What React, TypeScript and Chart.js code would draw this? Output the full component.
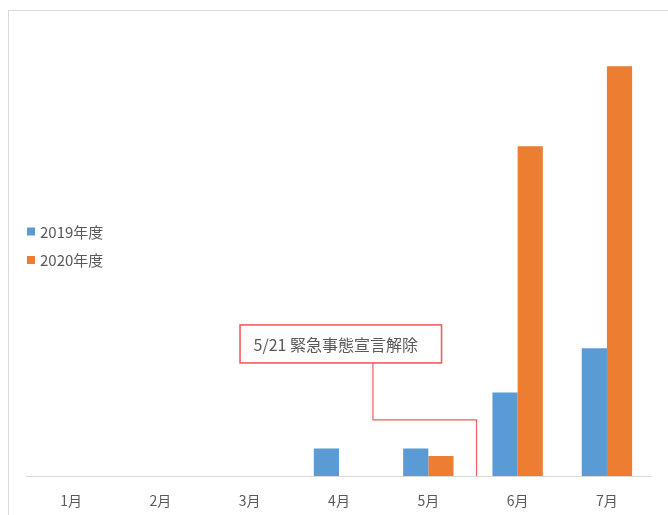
import React, { useEffect, useRef } from 'react';
import { Chart, registerables } from 'chart.js';

Chart.register(...registerables);

// ---- data ----
const months = ['1月', '2月', '3月', '4月', '5月', '6月', '7月'];
const fy2019 = [0, 0, 0, 2, 2, 6.05, 9.25];
const fy2020 = [0, 0, 0, 0, 1.45, 23.9, 29.7];
const seriesLabels = ['2019年度', '2020年度'];
const seriesColors = ['#5b9bd5', '#ed7d31'];
const yMax = 32;

// annotation (in data coordinates)
const annotationText = '5/21 緊急事態宣言解除';
const eventIndex = 4.54; // 5/21, between 5月 and 6月
const boxCenter = [3.02, 9.57];
const connectorStartX = 3.38;
const connectorKneeY = 4.06;

const FONT = '"Noto Sans CJK JP", "Noto Sans", sans-serif';
const TEXT_COLOR = '#595959';
const RED = '#f25c5c';

const frameBorderPlugin = {
  id: 'frameBorder',
  beforeDraw(chart: any) {
    const { ctx } = chart;
    ctx.save();
    ctx.strokeStyle = '#d9d9d9';
    ctx.lineWidth = 1;
    ctx.strokeRect(8.5, 10.5, 720, 620);
    ctx.restore();
  },
};

const legendPlugin = {
  id: 'customLegend',
  afterDraw(chart: any) {
    const { ctx } = chart;
    ctx.save();
    ctx.font = `15px ${FONT}`;
    ctx.textBaseline = 'middle';
    ctx.textAlign = 'left';
    chart.data.datasets.forEach((ds: any, i: number) => {
      const cy = 231.5 + i * 28.5;
      ctx.fillStyle = ds.backgroundColor;
      ctx.fillRect(27, cy - 4, 8, 8);
      ctx.fillStyle = TEXT_COLOR;
      ctx.fillText(ds.label, 40, cy + 0.5);
    });
    ctx.restore();
  },
};

const annotationPlugin = {
  id: 'calloutAnnotation',
  afterDatasetsDraw(chart: any) {
    const { ctx } = chart;
    const xs = chart.scales.x;
    const ys = chart.scales.y;
    ctx.save();
    ctx.font = `16px ${FONT}`;
    const tw = ctx.measureText(annotationText).width;
    const bw = tw + 37;
    const bh = 38;
    const cx = xs.getPixelForValue(boxCenter[0]);
    const cy = ys.getPixelForValue(boxCenter[1]);
    const left = cx - bw / 2;
    const top = cy - bh / 2;

    // connector
    const sx = xs.getPixelForValue(connectorStartX);
    const ky = ys.getPixelForValue(connectorKneeY);
    const ex = xs.getPixelForValue(eventIndex);
    const ey = ys.getPixelForValue(0);
    ctx.strokeStyle = RED;
    ctx.lineWidth = 1.2;
    ctx.beginPath();
    ctx.moveTo(sx, top + bh);
    ctx.lineTo(sx, ky);
    ctx.lineTo(ex, ky);
    ctx.lineTo(ex, ey);
    ctx.stroke();

    // box
    ctx.fillStyle = '#ffffff';
    ctx.fillRect(left, top, bw, bh);
    ctx.lineWidth = 1.6;
    ctx.strokeStyle = RED;
    ctx.strokeRect(left, top, bw, bh);

    ctx.fillStyle = TEXT_COLOR;
    ctx.textAlign = 'left';
    ctx.textBaseline = 'middle';
    ctx.fillText(annotationText, left + 13.5, cy + 1);
    ctx.restore();
  },
};

export default function App() {
  const canvasRef = useRef<HTMLCanvasElement | null>(null);

  useEffect(() => {
    if (!canvasRef.current) return;
    const chart = new Chart(canvasRef.current, {
      type: 'bar',
      data: {
        labels: months,
        datasets: [
          {
            label: seriesLabels[0],
            data: fy2019,
            backgroundColor: seriesColors[0],
            borderWidth: 0,
          },
          {
            label: seriesLabels[1],
            data: fy2020,
            backgroundColor: seriesColors[1],
            borderWidth: 0,
          },
        ],
      },
      options: {
        responsive: false,
        animation: false,
        devicePixelRatio: 1,
        layout: { padding: { left: 26.4, right: 16.4, top: 34.4, bottom: 0 } },
        datasets: {
          bar: { categoryPercentage: 0.564, barPercentage: 1 },
        },
        plugins: {
          legend: { display: false },
          title: { display: false },
          tooltip: { enabled: false },
        },
        scales: {
          x: {
            grid: { display: false, drawTicks: false },
            border: { display: true, color: '#d9d9d9', width: 1 },
            ticks: {
              color: TEXT_COLOR,
              font: { family: FONT, size: 14 },
              padding: 16.5,
            },
            afterFit(scale: any) {
              scale.height = 39;
            },
          },
          y: {
            display: false,
            min: 0,
            max: yMax,
          },
        },
      },
      plugins: [frameBorderPlugin, annotationPlugin, legendPlugin],
    });
    return () => chart.destroy();
  }, []);

  return (
    <div style={{ position: 'fixed', left: 0, top: 0, width: 668, height: 515, background: '#fff' }}>
      <canvas ref={canvasRef} width={668} height={515} style={{ display: 'block' }} />
    </div>
  );
}
